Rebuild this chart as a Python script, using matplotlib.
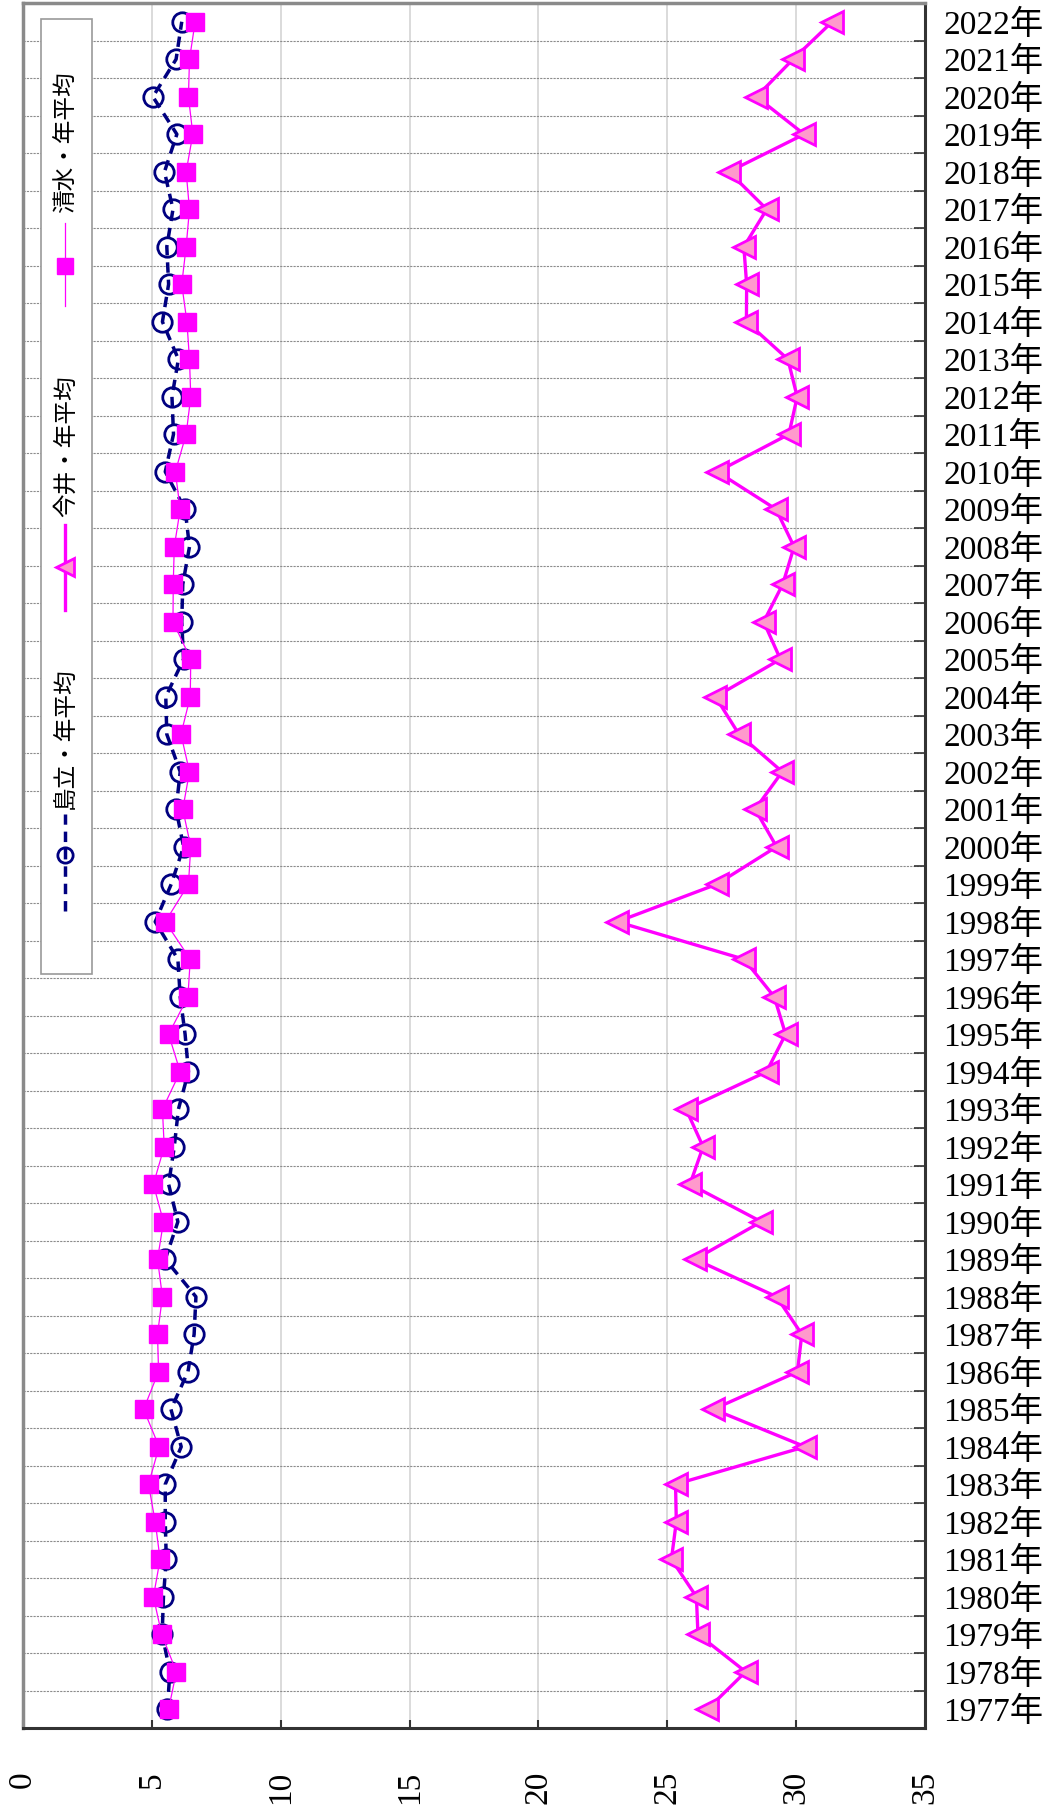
import matplotlib
matplotlib.use("Agg")
import matplotlib.pyplot as plt
from matplotlib.patches import Rectangle

# 年と各地点の年平均値
years = list(range(1977, 2023))

shimadachi = [5.60, 5.70, 5.40, 5.45, 5.56, 5.52, 5.52, 6.14, 5.74, 6.40,
              6.64, 6.71, 5.52, 6.01, 5.65, 5.87, 6.03, 6.42, 6.29, 6.10,
              6.01, 5.13, 5.75, 6.23, 5.94, 6.10, 5.58, 5.54, 6.23, 6.16,
              6.20, 6.46, 6.29, 5.52, 5.84, 5.78, 6.03, 5.41, 5.65, 5.58,
              5.82, 5.49, 5.97, 5.04, 5.94, 6.16]

imai = [26.56, 28.04, 26.19, 26.13, 25.16, 25.35, 25.32, 30.35, 26.79, 30.05,
        30.22, 29.24, 26.08, 28.65, 25.88, 26.39, 25.73, 28.85, 29.59, 29.15,
        27.98, 23.06, 26.92, 29.24, 28.41, 29.46, 27.78, 26.87, 29.39, 28.74,
        29.48, 29.92, 29.22, 26.94, 29.72, 30.04, 29.68, 28.07, 28.08, 27.97,
        28.86, 27.39, 30.31, 28.46, 29.88, 31.40]

shimizu = [5.65, 5.95, 5.38, 5.06, 5.32, 5.13, 4.87, 5.28, 4.68, 5.26,
           5.22, 5.41, 5.22, 5.45, 5.06, 5.48, 5.41, 6.10, 5.65, 6.40,
           6.49, 5.52, 6.42, 6.51, 6.20, 6.46, 6.13, 6.49, 6.51, 5.82,
           5.83, 5.87, 6.10, 5.91, 6.33, 6.51, 6.46, 6.36, 6.16, 6.33,
           6.46, 6.33, 6.59, 6.42, 6.46, 6.68]

year_labels = [f"{y}年" for y in years]
value_ticks = [0, 5, 10, 15, 20, 25, 30, 35]
series_names = ["島立・年平均", "今井・年平均", "清水・年平均"]

navy = "#000080"
magenta = "#FF00FF"
pink = "#FF99CC"

fig = plt.figure(figsize=(10.5, 18.18), dpi=100)
ax = fig.add_axes([23 / 1050, 90 / 1818, 902 / 1050, 1725 / 1818])

ax.plot(shimadachi, years, color=navy, lw=2.5, linestyle=(0, (3, 2)),
        marker="o", ms=14, mfc="none", mec=navy, mew=2, zorder=3)
ax.plot(imai, years, color=magenta, lw=2.4, marker="<", ms=16,
        mfc=pink, mec=magenta, mew=2, zorder=4)
ax.plot(shimizu, years, color=magenta, lw=0.9, marker="s", ms=13.5,
        mfc=magenta, mec=magenta, zorder=5)

ax.set_xlim(0, 35)
ax.set_ylim(1976.5, 2022.5)

ax.set_xticks(value_ticks)
ax.set_xticklabels([str(v) for v in value_ticks], rotation=90,
                   family="Liberation Serif", fontsize=24)
ax.tick_params(axis="x", direction="in", length=6, width=1.5, color="#333333", pad=31)

boundaries = [y - 0.5 for y in years] + [years[-1] + 0.5]
ax.set_yticks(boundaries)
ax.set_yticklabels([])
ax.set_yticks(years, minor=True)
ax.set_yticklabels(year_labels, minor=True,
                   family=["Liberation Serif", "Noto Sans CJK JP"], fontsize=24)
ax.yaxis.tick_right()
ax.tick_params(axis="y", which="major", direction="in", length=8, width=1.2,
               color="#333333")
ax.tick_params(axis="y", which="minor", length=0, pad=13)

ax.grid(axis="x", color="#d4d4d4", lw=1.2)
ax.grid(axis="y", which="major", color="#8c8c8c", lw=0.8, linestyle=(0, (2, 1)))
ax.set_axisbelow(True)

for side in ["left", "top"]:
    ax.spines[side].set_color("#8a8a8a")
    ax.spines[side].set_linewidth(2.5)
for side in ["right", "bottom"]:
    ax.spines[side].set_color("#333333")
    ax.spines[side].set_linewidth(2.2)

# 凡例（回転した縦向き）
ax.add_patch(Rectangle((0.020, 0.4371), 0.0565, 0.5536, transform=ax.transAxes,
                       facecolor="white", edgecolor="#999999", lw=1.2,
                       zorder=6, clip_on=False))
lx = 0.0466
legend_rows = [
    (0.4736, 0.5299, 0.5061, 0.5330),
    (0.6481, 0.6974, 0.6730, 0.7020),
    (0.8243, 0.8725, 0.8475, 0.8783),
]
styles = [
    dict(color=navy, lw=2.5, linestyle=(0, (3, 2)), marker="o", ms=11,
         mfc="none", mec=navy, mew=2),
    dict(color=magenta, lw=2.4, marker="<", ms=13, mfc=pink, mec=magenta, mew=2),
    dict(color=magenta, lw=0.9, marker="s", ms=12, mfc=magenta, mec=magenta),
]
for (y0, y1, ym, yt), st, name in zip(legend_rows, styles, series_names):
    ax.plot([lx, lx], [y0, y1], transform=ax.transAxes, clip_on=False,
            zorder=7, **{k: v for k, v in st.items() if not k.startswith("m")})
    ax.plot([lx], [ym], transform=ax.transAxes, clip_on=False, zorder=8,
            linestyle="none", **{k: v for k, v in st.items()
                                 if k.startswith("m")})
    ax.text(lx + 0.0012, yt, name, transform=ax.transAxes, rotation=90,
            ha="center", va="bottom", fontsize=17, family="Noto Sans CJK JP",
            zorder=8)

fig.savefig("out.png", dpi=100, facecolor="white")
